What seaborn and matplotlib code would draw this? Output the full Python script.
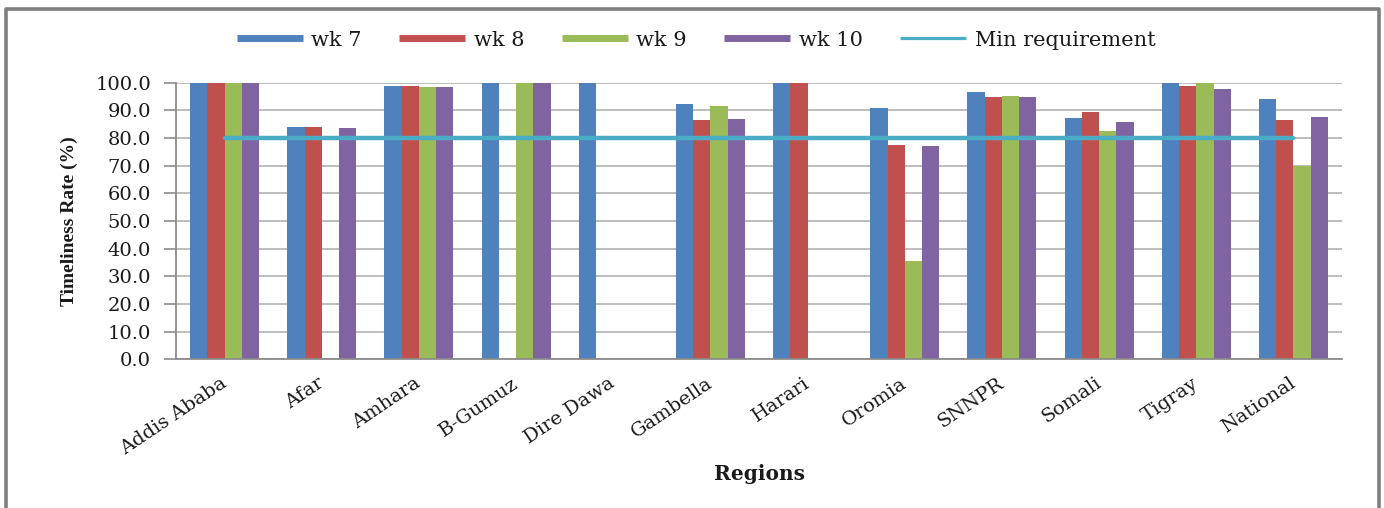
import numpy as np
import pandas as pd
import seaborn as sns
import matplotlib.pyplot as plt
from matplotlib.lines import Line2D

# Timeliness rate (%) by region for weeks 7-10
regions = ["Addis Ababa", "Afar", "Amhara", "B-Gumuz", "Dire Dawa", "Gambella",
           "Harari", "Oromia", "SNNPR", "Somali", "Tigray", "National"]
weeks = ["wk 7", "wk 8", "wk 9", "wk 10"]
wk7 = [100.0, 84.1, 98.8, 100.0, 100.0, 92.2, 100.0, 90.7, 96.5, 87.1, 100.0, 94.2]
wk8 = [100.0, 84.1, 98.8, np.nan, np.nan, 86.4, 100.0, 77.5, 94.9, 89.4, 98.8, 86.4]
wk9 = [100.0, np.nan, 98.6, 100.0, np.nan, 91.6, np.nan, 35.5, 95.3, 82.6, 100.0, 70.0]
wk10 = [100.0, 83.7, 98.4, 100.0, np.nan, 86.9, np.nan, 77.0, 94.9, 85.7, 97.7, 87.6]
min_requirement = 80.0
y_ticks = [0, 10, 20, 30, 40, 50, 60, 70, 80, 90, 100]

week_colors = ["#4F81BD", "#C0504D", "#9BBB59", "#8064A2"]
line_color = "#4BACC6"
axis_gray = "#8C8C8C"
text_color = "#1a1a1a"

wide = pd.DataFrame({"Region": regions, "wk 7": wk7, "wk 8": wk8,
                     "wk 9": wk9, "wk 10": wk10})
long = wide.melt(id_vars="Region", var_name="Week", value_name="Rate").dropna()
req = pd.DataFrame({"Region": regions, "Rate": [min_requirement] * len(regions)})

sns.set_theme(style="white")
plt.rcParams["font.family"] = ["DejaVu Serif", "Liberation Serif"]

fig = plt.figure(figsize=(13.84, 5.08), dpi=100)
ax = fig.add_axes([0.1272, 0.2927, 0.8425, 0.5445])

sns.barplot(data=long, x="Region", y="Rate", hue="Week", order=regions,
            hue_order=weeks, palette=week_colors, width=0.71, gap=0,
            saturation=1, errorbar=None, linewidth=0, legend=False,
            ax=ax, zorder=2)
sns.lineplot(data=req, x="Region", y="Rate", color=line_color, lw=3.2,
             sort=False, legend=False, ax=ax, zorder=3)

ax.set_xlim(-0.5, len(regions) - 0.5)
ax.set_ylim(0, 100)
ax.set_yticks(y_ticks)
ax.set_yticklabels([f"{v:.1f}" for v in y_ticks], fontsize=14,
                   color=text_color)
ax.set_xticks(range(len(regions)))
ax.set_xticklabels(regions, rotation=34, ha="right", va="center",
                   rotation_mode="anchor", fontsize=14, color=text_color)
ax.set_xticks(np.arange(-0.5, len(regions)), minor=True)
ax.tick_params(axis="x", which="major", length=0, pad=16)
ax.tick_params(axis="x", which="minor", length=5, width=1.2,
               color=axis_gray, direction="out")
ax.tick_params(axis="y", length=9, width=1.2, color=axis_gray,
               direction="out", pad=9, left=True)

ax.yaxis.grid(True, color="#BDBDBD", lw=1.4)
ax.xaxis.grid(False)
ax.set_axisbelow(True)
for side in ("top", "right"):
    ax.spines[side].set_visible(False)
for side in ("left", "bottom"):
    ax.spines[side].set_color(axis_gray)
    ax.spines[side].set_linewidth(1.3)

ax.set_ylabel("Timeliness Rate (%)", family="Liberation Serif", fontsize=14,
              fontweight="bold", color=text_color)
ax.yaxis.set_label_coords(-0.0845, 0.5)
ax.set_xlabel("Regions", fontsize=14.5, fontweight="bold", color=text_color)
ax.xaxis.set_label_coords(0.5, -0.379)

handles = [Line2D([0], [0], color=c, lw=5, solid_capstyle="butt")
           for c in week_colors]
handles.append(Line2D([0], [0], color=line_color, lw=2.3,
                      solid_capstyle="butt"))
fig.legend(handles, weeks + ["Min requirement"], loc="center",
           bbox_to_anchor=(0.503, 0.921), ncol=5, frameon=False,
           fontsize=15, handlelength=3.17, handletextpad=0.4,
           columnspacing=1.8, labelcolor=text_color)

# outer frame around the chart
fig.add_artist(Line2D([0.0045, 0.0045, 0.9963, 0.9963],
                      [0.0, 0.982, 0.982, 0.0],
                      transform=fig.transFigure, color="#7F7F7F", lw=2.6))

fig.savefig("out.png", dpi=100)
